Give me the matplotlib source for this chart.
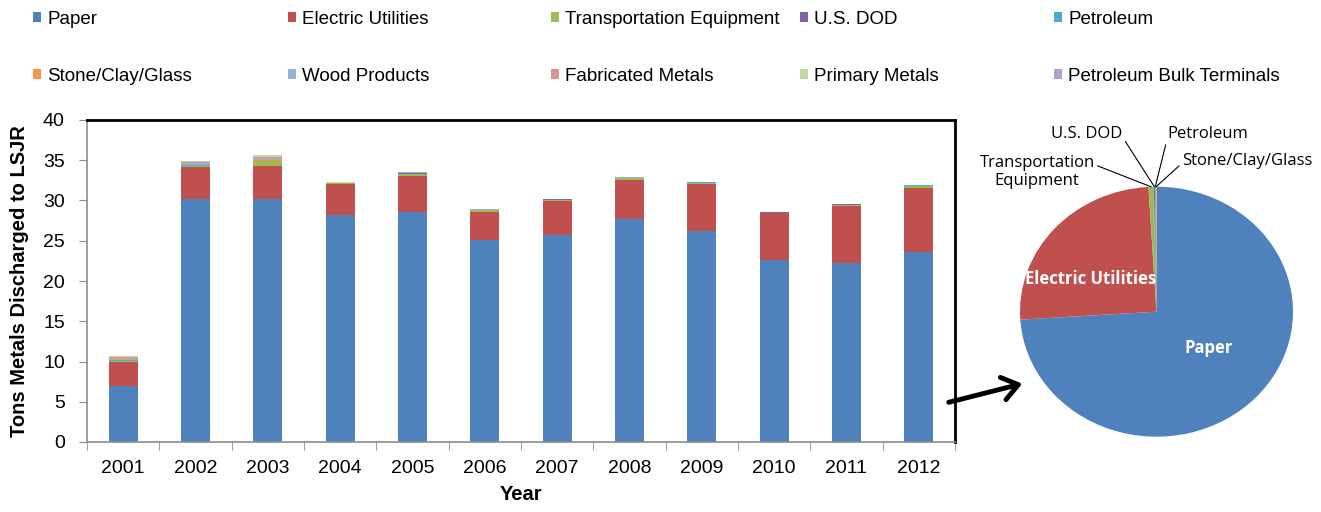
import matplotlib
matplotlib.use("Agg")
import matplotlib.pyplot as plt
import numpy as np
from matplotlib.patches import FancyArrowPatch

# ---- data -------------------------------------------------------------
years = ["2001", "2002", "2003", "2004", "2005", "2006",
         "2007", "2008", "2009", "2010", "2011", "2012"]

categories = ["Paper", "Electric Utilities", "Transportation Equipment", "U.S. DOD",
              "Petroleum", "Stone/Clay/Glass", "Wood Products", "Fabricated Metals",
              "Primary Metals", "Petroleum Bulk Terminals"]

paper       = [7.0, 30.2, 30.2, 28.2, 28.6, 25.1, 25.7, 27.7, 26.2, 22.6, 22.2, 23.6]
electric    = [2.9, 4.0, 4.1, 3.8, 4.5, 3.5, 4.2, 4.8, 5.8, 5.8, 7.1, 8.0]
transport   = [0.15, 0.10, 0.60, 0.12, 0.25, 0.20, 0.20, 0.25, 0.20, 0.10, 0.20, 0.20]
us_dod      = [0.05, 0.03, 0.03, 0.03, 0.03, 0.03, 0.03, 0.03, 0.03, 0.03, 0.03, 0.04]
petroleum   = [0.05, 0.02, 0.02, 0.02, 0.02, 0.02, 0.02, 0.02, 0.02, 0.02, 0.02, 0.03]
stone_clay  = [0.10, 0.03, 0.05, 0.03, 0.05, 0.03, 0.03, 0.05, 0.03, 0.03, 0.03, 0.03]
wood        = [0.15, 0.30, 0.20, 0.03, 0.03, 0.02, 0.02, 0.03, 0.02, 0.02, 0.02, 0.00]
fabricated  = [0.10, 0.12, 0.25, 0.00, 0.00, 0.00, 0.00, 0.02, 0.00, 0.00, 0.00, 0.00]
primary     = [0.20, 0.05, 0.15, 0.02, 0.02, 0.00, 0.00, 0.00, 0.00, 0.00, 0.00, 0.00]
bulk_term   = [0.00, 0.10, 0.10, 0.00, 0.00, 0.00, 0.00, 0.00, 0.00, 0.00, 0.00, 0.00]

series = [paper, electric, transport, us_dod, petroleum, stone_clay,
          wood, fabricated, primary, bulk_term]

colors = ["#4F81BD", "#C0504D", "#9BBB59", "#8064A2", "#4BACC6", "#F79646",
          "#95B3D7", "#D99694", "#C3D69B", "#B3A2C7"]

pie_year = "2012"

# ---- figure -------------------------------------------------------------
W, H = 1321, 512
fig = plt.figure(figsize=(W / 100, H / 100), dpi=100)
fig.patch.set_facecolor("white")


def fx(px):
    return px / W


def fy(py):
    return 1 - py / H


SANS = "Liberation Sans"
PIEFONT = "Open Sans"

ax = fig.add_axes([fx(87), fy(442), fx(955) - fx(87), fy(120) - fy(442)])

x = np.arange(len(years))
bottom = np.zeros(len(years))
containers = []
for name, vals, col in zip(categories, series, colors):
    vals = np.asarray(vals, dtype=float)
    c = ax.bar(x, vals, 0.4, bottom=bottom, color=col, label=name, linewidth=0)
    containers.append(c)
    bottom += vals

ax.set_xlim(-0.5, len(years) - 0.5)
ax.set_ylim(0, 40)
ax.set_yticks(np.arange(0, 41, 5))
ax.set_xticks(x, years)
ax.set_xticks(np.arange(-0.5, len(years), 1), minor=True)
ax.tick_params(axis="x", which="major", length=0, pad=13, labelsize=14)
ax.tick_params(axis="x", which="minor", length=6, color="#8c8c8c", direction="out")
ax.tick_params(axis="y", length=6, color="#8c8c8c", pad=10, labelsize=14)
for lab in ax.get_xticklabels() + ax.get_yticklabels():
    lab.set_fontfamily(SANS)

for side in ("top", "right"):
    ax.spines[side].set_color("black")
    ax.spines[side].set_linewidth(2)
for side in ("left", "bottom"):
    ax.spines[side].set_color("#8c8c8c")
    ax.spines[side].set_linewidth(1.2)

ax.set_ylabel("Tons Metals Discharged to LSJR", fontsize=14.5, fontweight="bold",
              family=SANS, labelpad=10)
ax.set_xlabel("Year", fontsize=14.5, fontweight="bold", family=SANS, labelpad=6)

# ---- legend: five columns of two entries ----------------------------------
col_x = [33, 288, 551, 800, 1054]
for j, cx in enumerate(col_x):
    hs = [containers[j], containers[j + 5]]
    ls = [categories[j], categories[j + 5]]
    fig.legend(hs, ls, loc="upper left", bbox_to_anchor=(fx(cx), fy(11)),
               frameon=False, prop={"family": SANS, "size": 13.5},
               handlelength=0.45, handleheight=0.45, handletextpad=0.3,
               labelspacing=2.12, borderpad=0, borderaxespad=0)

# ---- pie of the final year ---------------------------------------------
yi = years.index(pie_year)
pie_names = [n for n, s in zip(categories, series) if s[yi] > 0]
pie_vals = [s[yi] for s in series if s[yi] > 0]
pie_cols = [c for c, s in zip(colors, series) if s[yi] > 0]

axp = fig.add_axes([fx(1020), fy(436.7), fx(1293) - fx(1020), fy(186.7) - fy(436.7)])
wedges, _ = axp.pie(pie_vals, colors=pie_cols, startangle=90, counterclock=False,
                    radius=1, wedgeprops=dict(linewidth=0))
axp.set_aspect("auto")
axp.set_xlim(-1, 1)
axp.set_ylim(-1, 1)
axp.axis("off")

axp.text(-0.48, 0.26, "Electric Utilities", color="white", fontsize=12,
         fontweight="bold", family=PIEFONT, ha="center", va="center")
axp.text(0.385, -0.29, "Paper", color="white", fontsize=12,
         fontweight="bold", family=PIEFONT, ha="center", va="center")

outer = {
    "Transportation Equipment": ("Transportation\nEquipment", (1037, 172), "center", (1.0, 0.72)),
    "U.S. DOD": ("U.S. DOD", (1087, 134), "center", (1.0, 0.3)),
    "Petroleum": ("Petroleum", (1208, 134), "center", (0.0, 0.3)),
    "Stone/Clay/Glass": ("Stone/Clay/Glass", (1247, 161), "center", (0.0, 0.35)),
}
for w, name in zip(wedges, pie_names):
    if name not in outer:
        continue
    label, (px, py), ha, rel = outer[name]
    th = np.deg2rad(0.5 * (w.theta1 + w.theta2))
    axp.annotate(label, xy=(np.cos(th), np.sin(th)), xycoords="data",
                 xytext=(fx(px), fy(py)), textcoords="figure fraction",
                 ha=ha, va="center", fontsize=12, family=PIEFONT,
                 linespacing=1.1, annotation_clip=False,
                 arrowprops=dict(arrowstyle="-", color="black", lw=0.8,
                                 relpos=rel, shrinkA=0, shrinkB=0))

# ---- connecting arrow from the bar chart to the pie ------------------------
fig.add_artist(FancyArrowPatch((fx(946), fy(403)), (fx(1025), fy(383)),
                               transform=fig.transFigure,
                               arrowstyle="->,head_length=0.75,head_width=0.55",
                               mutation_scale=15, lw=3.5, color="black"))

fig.savefig("out.png", dpi=100, facecolor="white")
